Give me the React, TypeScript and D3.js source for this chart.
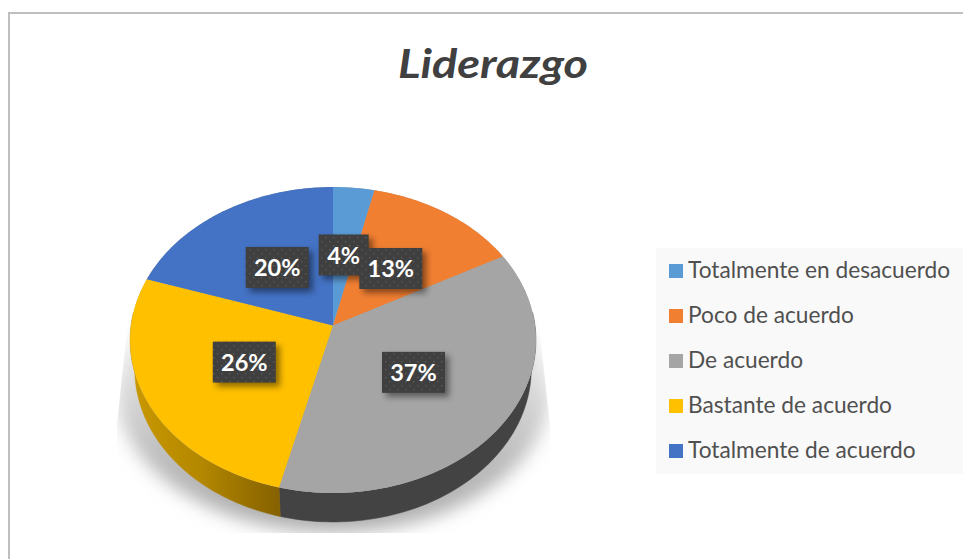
import React from "react";
import * as d3 from "d3";

const titleText = "Liderazgo";
const categories = ["Totalmente en desacuerdo", "Poco de acuerdo", "De acuerdo", "Bastante de acuerdo", "Totalmente de acuerdo"];
const values = [3.6, 13.5, 36.8, 26.2, 19.9];
const labels = ["4%", "13%", "37%", "26%", "20%"];
const colors = ["#5B9BD5", "#F07F32", "#A5A5A5", "#FFC000", "#4472C4"];

const W = 963, H = 559;
const cx = 333, cy = 325.5, rx = 202, ry = 151.6, persp = 0.0947;
const depth = 29, inset = 0.977, labelRadius = 0.49;
const FONT = "Lato, 'Open Sans', sans-serif";

type P = [number, number];
// Perspective projection of a point on the unit disc (angle clockwise from 12 o'clock)
function project(theta: number, r = 1): P {
  const u = r * Math.sin(theta), v = r * Math.cos(theta);
  const d = 1 + persp * v;
  return [cx + (rx * u) / d, cy - (ry * v) / d];
}
function projectBase(theta: number): P {
  const [x, y] = project(theta);
  return [cx + (x - cx) * inset, y + depth];
}
const line = d3.line<P>().x((d) => d[0]).y((d) => d[1]);
const arcs = d3.pie<number>().sort(null).value((d) => d)(values);

function samples(a: number, b: number): number[] {
  return d3.range(0, 81).map((i) => a + ((b - a) * i) / 80);
}
function slicePath(a: number, b: number) {
  return line([project(0, 0), ...samples(a, b).map((t) => project(t))]) + "Z";
}
const wallMin = (85 * Math.PI) / 180, wallMax = (275 * Math.PI) / 180;
function wallPath(a: number, b: number) {
  const s = Math.max(a, wallMin), e = Math.min(b, wallMax);
  if (e <= s) return null;
  const ts = samples(s, e);
  return line([...ts.map((t) => project(t)), ...ts.slice().reverse().map(projectBase)]) + "Z";
}
const wallFills = ["none", "none", "#434343", "url(#wallGold)", "none"];

const rimPath = line(samples(0, 2 * Math.PI).map((t) => project(t))) + "Z";

const legendRow = d3.scalePoint<number>().domain(d3.range(categories.length)).range([271, 451]);

export default function App() {
  return (
    <svg width={W} height={H} viewBox={`0 0 ${W} ${H}`} style={{ position: "fixed", left: 0, top: 0, background: "#fff" }}>
      <defs>
        <linearGradient id="wallGold" gradientUnits="userSpaceOnUse" x1={135} x2={282} y1={0} y2={0}>
          <stop offset="0" stopColor="#C89700" />
          <stop offset="0.45" stopColor="#B38700" />
          <stop offset="1" stopColor="#846000" />
        </linearGradient>
        <filter id="groundBlur" x="-20%" y="-20%" width="140%" height="140%">
          <feGaussianBlur stdDeviation="9" />
        </filter>
        <filter id="boxShadow" x="-30%" y="-30%" width="160%" height="160%">
          <feGaussianBlur stdDeviation="3" />
        </filter>
        <clipPath id="groundClip">
          <path d="M131 290 L535 290 L550 425 L550 533 L117 533 L117 425 Z" />
        </clipPath>
        <linearGradient id="groundFade" x1="0" x2="0" y1="0" y2="1">
          <stop offset="0" stopColor="#fff" />
          <stop offset="0.45" stopColor="#ddd" />
          <stop offset="0.75" stopColor="#bbb" />
          <stop offset="1" stopColor="#aaa" />
        </linearGradient>
        <pattern id="dots" width="8" height="8" patternUnits="userSpaceOnUse">
          <rect width="8" height="8" fill="#3F3F3F" />
          <rect x="1" y="1" width="1.4" height="1.4" fill="#5A5A5A" />
          <rect x="5" y="5" width="1.4" height="1.4" fill="#5A5A5A" />
        </pattern>
      </defs>

      <path d={`M9 ${H} V13 H${W}`} fill="none" stroke="#BFBFBF" strokeWidth={2} />

      <text x={493} y={78} textAnchor="middle" textLength={190} lengthAdjust="spacingAndGlyphs" fontFamily={FONT} fontStyle="italic" fontWeight={700} fontSize={41} fill="#404040">
        {titleText}
      </text>

      <g clipPath="url(#groundClip)">
        <ellipse cx={cx} cy={392} rx={216} ry={140} fill="url(#groundFade)" filter="url(#groundBlur)" />
      </g>

      {arcs.map((a, i) => {
        const d = wallPath(a.startAngle, a.endAngle);
        return d ? <path key={i} d={d} fill={wallFills[i]} stroke={wallFills[i]} strokeWidth={0.5} /> : null;
      })}
      <path d={rimPath} fill="#A5A5A5" />
      {arcs.map((a, i) => (
        <path key={i} d={slicePath(a.startAngle, a.endAngle)} fill={colors[i]} />
      ))}

      {arcs.map((a, i) => {
        const [x, y] = project((a.startAngle + a.endAngle) / 2, labelRadius);
        const w = 24 + 13 * labels[i].length, h = 41;
        return (
          <g key={i}>
            <rect x={x - w / 2 + 4} y={y - h / 2 + 4} width={w} height={h} fill="#000" opacity={0.45} filter="url(#boxShadow)" />
            <rect x={x - w / 2} y={y - h / 2} width={w} height={h} fill="url(#dots)" />
          </g>
        );
      })}
      {arcs.map((a, i) => {
        const [x, y] = project((a.startAngle + a.endAngle) / 2, labelRadius);
        return (
          <text key={i} x={x} y={y + 9} textAnchor="middle" fontFamily={FONT} fontWeight={700} fontSize={23.5} fill="#fff">
            {labels[i]}
          </text>
        );
      })}

      <rect x={656} y={248} width={W - 656} height={226} fill="#F9F9F9" />
      {categories.map((c, i) => {
        const y = legendRow(i)!;
        return (
          <g key={c}>
            <rect x={669} y={y - 7} width={14} height={14} fill={colors[i]} />
            <text x={688} y={y + 7} fontFamily={FONT} fontSize={22.7} fill="#505050">
              {c}
            </text>
          </g>
        );
      })}
    </svg>
  );
}
